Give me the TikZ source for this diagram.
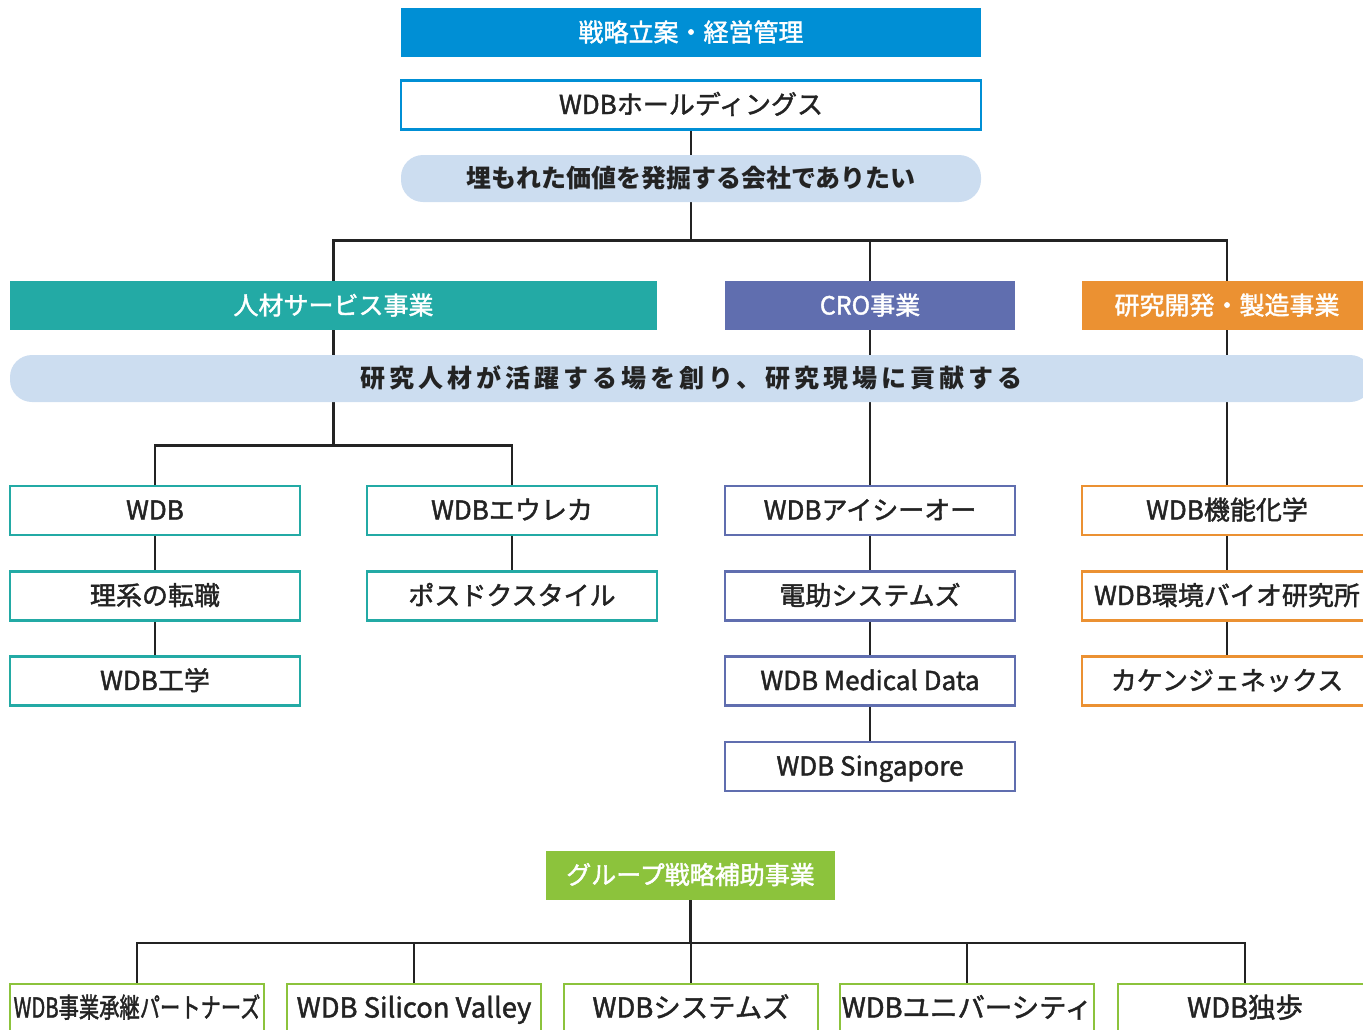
\documentclass[tikz,border=0pt]{standalone}
\usepackage{fontspec}
\setmainfont{Noto Sans CJK JP}
\newfontfamily\medfont[FakeBold=1.6]{Noto Sans CJK JP}
\usepackage{graphicx}
\usetikzlibrary{backgrounds}

\definecolor{stratblue}{RGB}{0,143,213}
\definecolor{visionblue}{RGB}{204,221,240}
\definecolor{jinzaiteal}{RGB}{35,170,165}
\definecolor{cropurple}{RGB}{96,110,175}
\definecolor{rdorange}{RGB}{235,145,50}
\definecolor{groupgreen}{RGB}{140,195,60}
\definecolor{inkgray}{RGB}{35,35,35}

\begin{document}
\begin{tikzpicture}[
    x=0.5pt, y=-0.5pt,
    every node/.style={font=\medfont\fontsize{13pt}{15pt}\selectfont, text=inkgray, inner sep=0pt, text height=0.9em, text depth=0pt},
    header/.style={minimum width=145pt, minimum height=24.5pt, text=white, font=\medfont\fontsize{12.5pt}{15pt}\selectfont},
    company/.style={minimum width=145pt, minimum height=24.5pt, draw, line width=1.4pt, fill=white},
    member/.style={company, minimum width=127pt, draw=groupgreen, font=\medfont\fontsize{13.7pt}{15pt}\selectfont},
    vision/.style={minimum height=23.5pt, rounded corners=11pt, fill=visionblue, font=\fontsize{12.5pt}{15pt}\selectfont\bfseries},
    conn/.style={draw=inkgray, line width=1.4pt}
]
\useasboundingbox (0,0) rectangle (1363,1029);

% Holding
\node[header, fill=stratblue, minimum width=290pt] (strategy) at (691,32.5) {戦略立案・経営管理};
\node[company, draw=stratblue, minimum width=290pt] (holdings) at (691,105) {WDBホールディングス};
\node[vision, minimum width=290pt] (mission) at (691,178.5) {埋もれた価値を発掘する会社でありたい};

% Segments
\node[header, fill=jinzaiteal, minimum width=323.5pt] (jinzai) at (333.5,305.5) {人材サービス事業};
\node[header, fill=cropurple] (cro) at (870,305.5) {CRO事業};
\node[header, fill=rdorange] (rd) at (1227,305.5) {研究開発・製造事業};
\node[vision, minimum width=681pt] (vision) at (691,378.5) {\addfontfeature{LetterSpace=16}研究人材が活躍する場を創り、研究現場に貢献する};

% Human resources
\node[company, draw=jinzaiteal] (wdb) at (155,510.5) {WDB};
\node[company, draw=jinzaiteal] (rikei) at (155,596) {理系の転職};
\node[company, draw=jinzaiteal] (kogaku) at (155,681) {WDB工学};
\node[company, draw=jinzaiteal] (eureka) at (512,510.5) {WDBエウレカ};
\node[company, draw=jinzaiteal] (posdoc) at (512,596) {ポスドクスタイル};

% CRO
\node[company, draw=cropurple] (icio) at (870,510.5) {WDBアイシーオー};
\node[company, draw=cropurple] (densuke) at (870,596) {電助システムズ};
\node[company, draw=cropurple] (medical) at (870,681) {WDB Medical Data};
\node[company, draw=cropurple] (singapore) at (870,766.5) {WDB Singapore};

% R&D / manufacturing
\node[company, draw=rdorange] (kino) at (1227,510.5) {WDB機能化学};
\node[company, draw=rdorange] (kankyo) at (1227,596) {WDB環境バイオ研究所};
\node[company, draw=rdorange] (kaken) at (1227,681) {カケンジェネックス};

% Group support
\node[header, fill=groupgreen, minimum width=144.5pt] (group) at (690.5,875) {グループ戦略補助事業};
\foreach \name/\x/\txt in {succ/137/{\scalebox{0.74}[1]{WDB事業承継パートナーズ}}, valley/414/{WDB Silicon Valley}, systems/691/{WDBシステムズ}, univ/967/{WDBユニバーシティ}, doppo/1245/{WDB独歩}} {
    \node[member] (\name) at (\x,1008.5) {\txt};
}

% Connectors
\begin{scope}[on background layer]
\draw[conn] (holdings.south) -- (mission.north);
\draw[conn] (mission.south) -- ++(0,38) coordinate (topbus);
\draw[conn] (topbus) -| (jinzai.north);
\draw[conn] (topbus) -| (cro.north);
\draw[conn] (topbus) -| (rd.north);
\draw[conn] (jinzai.south) -- ++(0,115) coordinate (jbus);
\draw[conn] (jbus) -| (wdb.north);
\draw[conn] (jbus) -| (eureka.north);
\draw[conn] (wdb) -- (rikei) -- (kogaku);
\draw[conn] (eureka) -- (posdoc);
\draw[conn] (cro.south) -- (icio.north);
\draw[conn] (icio) -- (densuke) -- (medical) -- (singapore);
\draw[conn] (rd.south) -- (kino.north);
\draw[conn] (kino) -- (kankyo) -- (kaken);
\draw[conn] (group.south) -- ++(0,43) coordinate (gbus);
\foreach \name in {succ, valley, systems, univ, doppo}
    \draw[conn] (gbus) -| (\name.north);
\end{scope}

\end{tikzpicture}
\end{document}
